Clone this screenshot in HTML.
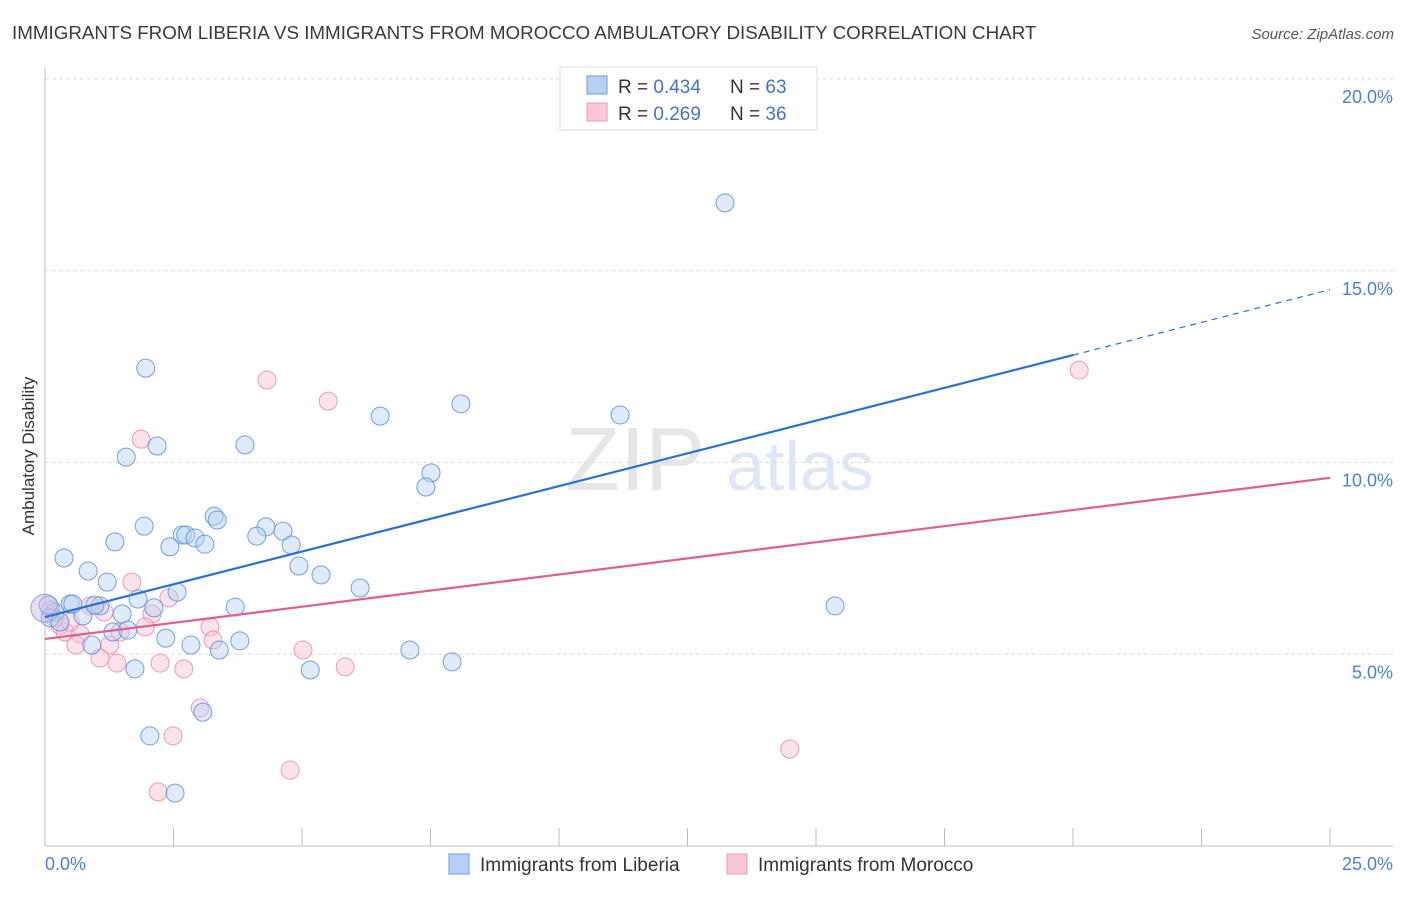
<!DOCTYPE html>
<html><head><meta charset="utf-8"><style>
body{margin:0;background:#fff;font-family:"Liberation Sans",sans-serif;}
svg text{font-family:"Liberation Sans",sans-serif;}
</style></head><body>
<svg id="chart" width="1406" height="892" viewBox="0 0 1406 892" xmlns="http://www.w3.org/2000/svg">
<text x="12" y="39" font-size="18.8" fill="#3a3a3a">IMMIGRANTS FROM LIBERIA VS IMMIGRANTS FROM MOROCCO AMBULATORY DISABILITY CORRELATION CHART</text>
<text x="1394" y="39" font-size="15" fill="#555" font-style="italic" text-anchor="end">Source: ZipAtlas.com</text>
<g>
<text x="635" y="490" font-size="90" fill="#e6e6e6" font-family="Liberation Serif" text-anchor="middle">ZIP</text>
<text x="800" y="490" font-size="70" fill="#dde7f5" text-anchor="middle">atlas</text>
</g>
<g id="grid"></g>
<g id="axes"></g>
<g id="marks"></g>
<text transform="translate(34,456) rotate(-90)" font-size="17" fill="#333" text-anchor="middle">Ambulatory Disability</text>
<text x="45" y="870" font-size="18" fill="#4a7fd4">0.0%</text>
<text x="1393" y="870" font-size="18" fill="#4a7fd4" text-anchor="end">25.0%</text>
<g>
<rect x="560" y="67" width="257" height="63" fill="#fff" stroke="#ddd"/>
<rect x="587" y="76" width="20" height="18" fill="#b7d0f3" stroke="#6a9be0"/>
<rect x="587" y="103" width="20" height="18" fill="#f9c7d6" stroke="#ee98b2"/>
<text x="618" y="93" font-size="19" fill="#333">R = <tspan fill="#3f75d0">0.434</tspan></text>
<text x="730" y="93" font-size="19" fill="#333">N = <tspan fill="#3f75d0">63</tspan></text>
<text x="618" y="120" font-size="19" fill="#333">R = <tspan fill="#3f75d0">0.269</tspan></text>
<text x="730" y="120" font-size="19" fill="#333">N = <tspan fill="#3f75d0">36</tspan></text>
</g>
<g>
<rect x="449" y="854" width="20" height="20" fill="#b7d0f3" stroke="#6a9be0"/>
<text x="480" y="871" font-size="19" fill="#333">Immigrants from Liberia</text>
<rect x="727" y="854" width="20" height="20" fill="#f9c7d6" stroke="#ee98b2"/>
<text x="758" y="871" font-size="19" fill="#333">Immigrants from Morocco</text>
</g>
</svg>
<script>
const yTicks=[5,10,15,20];
const yTickLabels=["5.0%","10.0%","15.0%","20.0%"];
const xTicks=[0,2.5,5,7.5,10,12.5,15,17.5,20,22.5,25];
const liberiaX=[1.96,2.18,1.58,3.89,6.52,8.09,11.19,13.23,7.51,7.41,3.29,3.35,1.93,4.30,4.63,4.12,1.36,2.67,2.74,2.92,2.43,3.11,4.79,0.37,4.94,5.37,0.84,1.21,6.13,2.57,1.81,0.49,1.07,2.12,3.70,15.37,0.19,1.50,0.74,0.10,0.29,1.32,1.61,2.35,3.79,0.91,2.84,3.39,7.10,7.92,1.75,5.16,3.07,2.04,2.53,0.06,0.97,0.54];
const liberiaY=[12.46,10.43,10.14,10.46,11.21,11.53,11.24,16.77,9.73,9.36,8.60,8.50,8.34,8.32,8.21,8.08,7.93,8.11,8.11,8.03,7.80,7.87,7.85,7.51,7.30,7.07,7.17,6.88,6.73,6.62,6.44,6.31,6.26,6.21,6.23,6.26,6.10,6.05,6.00,5.95,5.84,5.58,5.63,5.42,5.35,5.24,5.24,5.11,5.11,4.80,4.62,4.59,3.49,2.87,1.38,6.28,6.28,6.31];
const moroccoX=[4.32,5.51,1.87,20.12,1.69,2.41,0.88,1.15,2.08,0.10,0.29,0.39,0.68,0.60,1.26,1.95,3.21,3.27,1.07,1.40,2.24,2.70,5.02,5.84,3.02,2.49,14.49,4.77,2.20,0.19,1.46,0.49];
const moroccoY=[12.15,11.60,10.61,12.41,6.88,6.47,6.26,6.10,6.05,6.15,5.76,5.58,5.53,5.24,5.24,5.71,5.71,5.37,4.90,4.77,4.77,4.62,5.11,4.67,3.60,2.87,2.53,1.98,1.41,5.95,5.58,5.84];
const liberiaFit=[5.97,0.3415];
const moroccoFit=[5.40,0.168];
const NS='http://www.w3.org/2000/svg';
const X=v=>45+v*51.4;
const Y=v=>846-v*38.35;
function mk(tag,attrs,parent){const e=document.createElementNS(NS,tag);for(const k in attrs)e.setAttribute(k,attrs[k]);parent.appendChild(e);return e;}
const grid=document.getElementById('grid'),axes=document.getElementById('axes'),marks=document.getElementById('marks');
yTicks.forEach((t,i)=>{
 const l=mk('line',{x1:45,x2:1393,y1:Y(t),y2:Y(t),stroke:'#ddd','stroke-dasharray':'4,3'},grid);
 
 
 const tx=mk('text',{x:1393,y:Y(t)+24,'font-size':18,fill:'#4a7fd4','text-anchor':'end'},axes);
 tx.textContent=yTickLabels[i];
 
 
});
const ya=mk('line',{x1:45,x2:45,y1:68,y2:846,stroke:'#bbb'},axes);


const xa=mk('line',{x1:45,x2:1393,y1:846,y2:846,stroke:'#bbb'},axes);


xTicks.forEach(t=>{
 const l=mk('line',{x1:X(t),x2:X(t),y1:828,y2:846,stroke:'#bbb'},axes);
 
 
});
function dots(xs,ys,fill,stroke,name){
 xs.forEach((x,i)=>{
  const c=mk('circle',{cx:X(x),cy:Y(ys[i]),r:9,fill:fill,'fill-opacity':0.45,stroke:stroke,'stroke-width':1,'stroke-opacity':0.85},marks);
  
  
 });
}
dots(moroccoX,moroccoY,'#f6c2d2','#e98aa8','point-morocco');
dots(liberiaX,liberiaY,'#b7d0f3','#5b8fdc','point-liberia');
const big=mk('circle',{cx:X(0),cy:Y(6.2),r:14,fill:'#c9b8e0','fill-opacity':0.45,stroke:'#8fa3d8'},marks);


const fb=v=>liberiaFit[0]+liberiaFit[1]*v;
const fm=v=>moroccoFit[0]+moroccoFit[1]*v;
const l1=mk('line',{x1:X(0),y1:Y(fb(0)),x2:X(20),y2:Y(fb(20)),stroke:'#2a6fd6','stroke-width':2.2},marks);


const l1d=mk('line',{x1:X(20),y1:Y(fb(20)),x2:X(25),y2:Y(fb(25)),stroke:'#2a6fd6','stroke-width':1.2,'stroke-dasharray':'6,5'},marks);


const l2=mk('line',{x1:X(0),y1:Y(fm(0)),x2:X(25),y2:Y(fm(25)),stroke:'#e0608b','stroke-width':2.2},marks);


</script>
</body></html>
